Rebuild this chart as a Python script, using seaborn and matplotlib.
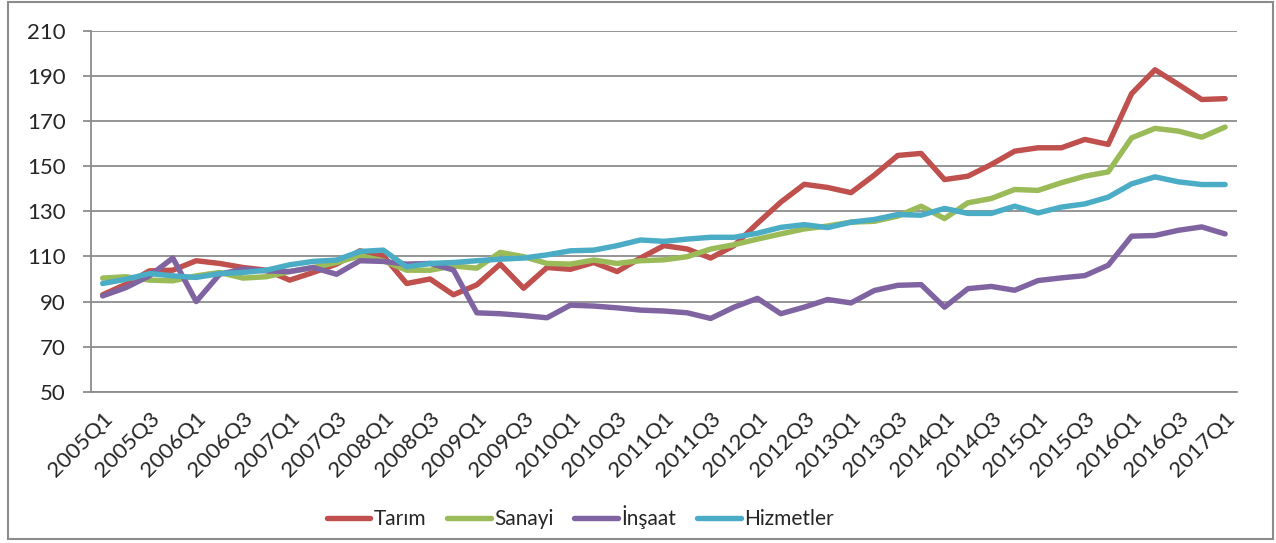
import numpy as np
import pandas as pd
import matplotlib
matplotlib.use("Agg")
import matplotlib.pyplot as plt
import seaborn as sns
from matplotlib.patches import Rectangle

# quarters 2005Q1 .. 2017Q1
quarters = [f"{y}Q{q}" for y in range(2005, 2018) for q in range(1, 5)][:49]

tarim = [93, 97.7, 103.6, 103.9, 108.1, 106.9, 105.1, 103.9, 99.5, 102.9,
         106.6, 112.5, 110.3, 98, 100, 93, 97.4, 106.6, 95.9, 105.1,
         104.3, 107.3, 103.3, 109.3, 114.8, 113.3, 109.3, 114.8, 124.7, 134.1,
         142, 140.6, 138.3, 146.1, 154.8, 155.7, 144.1, 145.6, 150.8, 156.7,
         158.2, 158.2, 161.9, 159.7, 182.2, 192.8, 186.3, 179.6, 180]
sanayi = [100.4, 101, 99.5, 99.2, 101.4, 102.9, 100.4, 101, 103.3, 105.1,
          107.3, 110.3, 108.1, 103.9, 103.9, 105.8, 104.8, 111.8, 109.9, 106.9,
          106.6, 108.4, 106.9, 108.1, 108.5, 109.9, 113.3, 115.2, 117.7, 120,
          122.2, 123.5, 125.2, 125.6, 127.9, 132.3, 126.8, 133.8, 135.7, 139.7,
          139.3, 142.7, 145.6, 147.5, 162.6, 166.8, 165.6, 162.9, 167.4]
insaat = [92.5, 96.2, 101.4, 109.3, 90, 102.1, 104.4, 103.6, 103.3, 105.1,
          102.1, 108.1, 107.8, 106.6, 106.9, 104, 85, 84.6, 83.8, 82.8,
          88.4, 88, 87.2, 86.2, 85.8, 85, 82.5, 87.5, 91.4, 84.6,
          87.5, 90.9, 89.4, 94.9, 97.2, 97.5, 87.5, 95.7, 96.7, 95,
          99.3, 100.5, 101.5, 106.1, 119, 119.3, 121.6, 123.1, 120]
hizmetler = [98, 99.9, 102.4, 101.4, 100.7, 102.4, 102.9, 103.9, 106.3, 107.8,
             108.4, 112.2, 112.8, 105.4, 106.9, 107.3, 108.1, 108.8, 109.3, 110.7,
             112.5, 112.8, 114.8, 117.3, 116.7, 117.7, 118.5, 118.5, 120.3, 122.9,
             124.1, 122.8, 125.2, 126.4, 128.6, 128.3, 131.3, 129.1, 129.1, 132.3,
             129.3, 131.9, 133.3, 136.3, 142.2, 145.3, 143.1, 141.9, 141.9]

series_names = ["Tarım", "Sanayi", "İnşaat", "Hizmetler"]
colors = ["#C0504D", "#9BBB59", "#8064A2", "#4BACC6"]

df = pd.DataFrame({"idx": np.arange(len(quarters)), "Tarım": tarim,
                   "Sanayi": sanayi, "İnşaat": insaat, "Hizmetler": hizmetler})
long = df.melt(id_vars="idx", var_name="seri", value_name="deger")

sns.set_style("white")
plt.rcParams["font.family"] = ["Lato", "DejaVu Sans"]

fig = plt.figure(figsize=(12.76, 5.43), dpi=100)
ax = fig.add_axes([0.0713, 0.2786, 0.898, 0.6643])

sns.lineplot(data=long, x="idx", y="deger", hue="seri", hue_order=series_names,
             palette=colors, linewidth=3.9, ax=ax, legend=False)

ax.set_xlim(-0.5, len(quarters) - 0.5)
ax.set_ylim(50, 210)
ax.set_yticks(range(50, 211, 20))
ax.yaxis.grid(True, color="#8c8c8c", linewidth=1.3)
ax.set_axisbelow(True)
ax.set_xlabel("")
ax.set_ylabel("")

# labels every other quarter, boundary ticks between categories
ax.set_xticks(range(0, len(quarters), 2))
ax.set_xticklabels(quarters[::2], rotation=45, ha="right", rotation_mode="anchor")
ax.set_xticks(np.arange(-0.5, len(quarters), 1), minor=True)
ax.tick_params(axis="x", which="major", length=0, pad=12, labelsize=16)
ax.tick_params(axis="x", which="minor", length=6, width=1.3, color="#8c8c8c",
               direction="out")
ax.tick_params(axis="y", length=6, width=1.3, color="#8c8c8c", labelsize=16, pad=12,
               left=True)

for s in ["top", "right"]:
    ax.spines[s].set_visible(False)
for s in ["left", "bottom"]:
    ax.spines[s].set_color("#8c8c8c")
    ax.spines[s].set_linewidth(1.3)

handles = [plt.Line2D([], [], color=c, linewidth=3.9, solid_capstyle="round")
           for c in colors]
fig.legend(handles, series_names, loc="center", bbox_to_anchor=(580 / 1276, 1 - 517 / 543),
           ncol=4, frameon=False, fontsize=15, handlelength=2.1,
           handletextpad=0.15, columnspacing=1.0)

fig.patches.append(Rectangle((8 / 1276, 4 / 543), 1265 / 1276, 537 / 543,
                             transform=fig.transFigure, fill=False,
                             edgecolor="#8c8c8c", linewidth=1.5))

fig.savefig("out.png", dpi=100)
